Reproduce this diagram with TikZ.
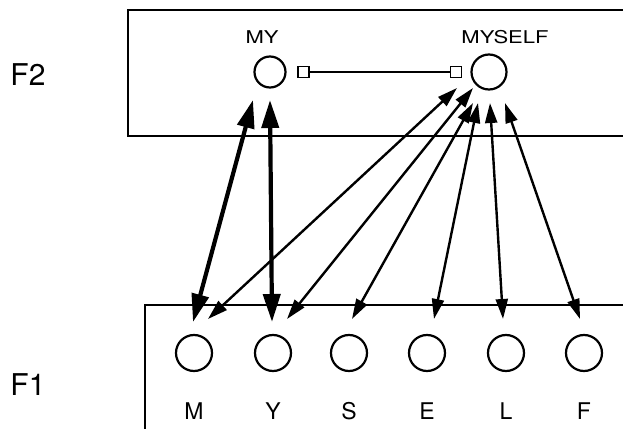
\documentclass[tikz,border=0pt]{standalone}
\usepackage{fontspec}
\setmainfont{TeX Gyre Heros}
\newfontfamily\widefont[FakeStretch=1.25]{TeX Gyre Heros}
\usetikzlibrary{arrows.meta,calc,positioning}

\tikzset{
  frame/.style={line width=1.1pt},
  unit/.style={draw, circle, line width=1.1pt, minimum size=17.5pt, inner sep=0pt},
  gate/.style={draw, rectangle, line width=0.9pt, minimum size=5.5pt, inner sep=0pt},
  layer/.style={anchor=base, font=\fontsize{15}{18}\selectfont},
  word/.style={anchor=base, font=\widefont\fontsize{8.8}{10}\selectfont},
  letter/.style={anchor=base, font=\fontsize{11.5}{13}\selectfont},
  strong link/.style={line width=2.1pt, {Triangle[length=14pt,width=8.5pt]}-{Triangle[length=14pt,width=8.5pt]}},
  weak link/.style={line width=1.2pt, {Triangle[length=10pt,width=6pt]}-{Triangle[length=10pt,width=6pt]}}
}

\begin{document}
\begin{tikzpicture}[x=0.5pt, y=-0.5pt]
    \useasboundingbox (0,0) rectangle (623,429);

    % Layers
    \draw[frame] (623,10) -- (128,10) -- (128,136) -- (623,136);
    \draw[frame] (623,305) -- (145,305) -- (145,429);
    \node[layer] (f2) at (28,85) {F2};
    \node[layer] (f1) at (28,395) {F1};

    % F2 chunks
    \node[unit, minimum size=15.5pt] (my) at (270,72) {};
    \node[unit] (myself) at (489,72) {};
    \node[word] (my-label) at (262,43) {MY};
    \node[word] (myself-label) at (505,43) {MYSELF};

    % Masking link
    \node[gate] (gate-my) at (303.5,72) {};
    \node[gate] (gate-myself) at (456,72) {};
    \draw[line width=1pt] (gate-my.east) -- (gate-myself.west);

    % F1 items
    \foreach \ltr/\x in {M/194, Y/273, S/349, E/427, L/506, F/584} {
        \node[unit, minimum size=18pt] (f1-\ltr) at (\x,353) {};
        \node[letter] at (\x,419) {\ltr};
    }

    % Links to MY
    \draw[strong link] ($(my)+(-17,28)$) -- ($(f1-M)+(-1,-31)$);
    \draw[strong link] ($(my)+(0,28)$) -- ($(f1-Y)+(-1,-31)$);

    % Links to MYSELF
    \foreach \ltr/\tx/\ty/\bx in {M/-32/16/14, Y/-16/16/14, S/-16/31/3, E/-11/31/7, L/1/31/-3, F/16/31/-4}
        \draw[weak link] ($(myself)+(\tx,\ty)$) -- ($(f1-\ltr)+(\bx,-34)$);
\end{tikzpicture}
\end{document}
